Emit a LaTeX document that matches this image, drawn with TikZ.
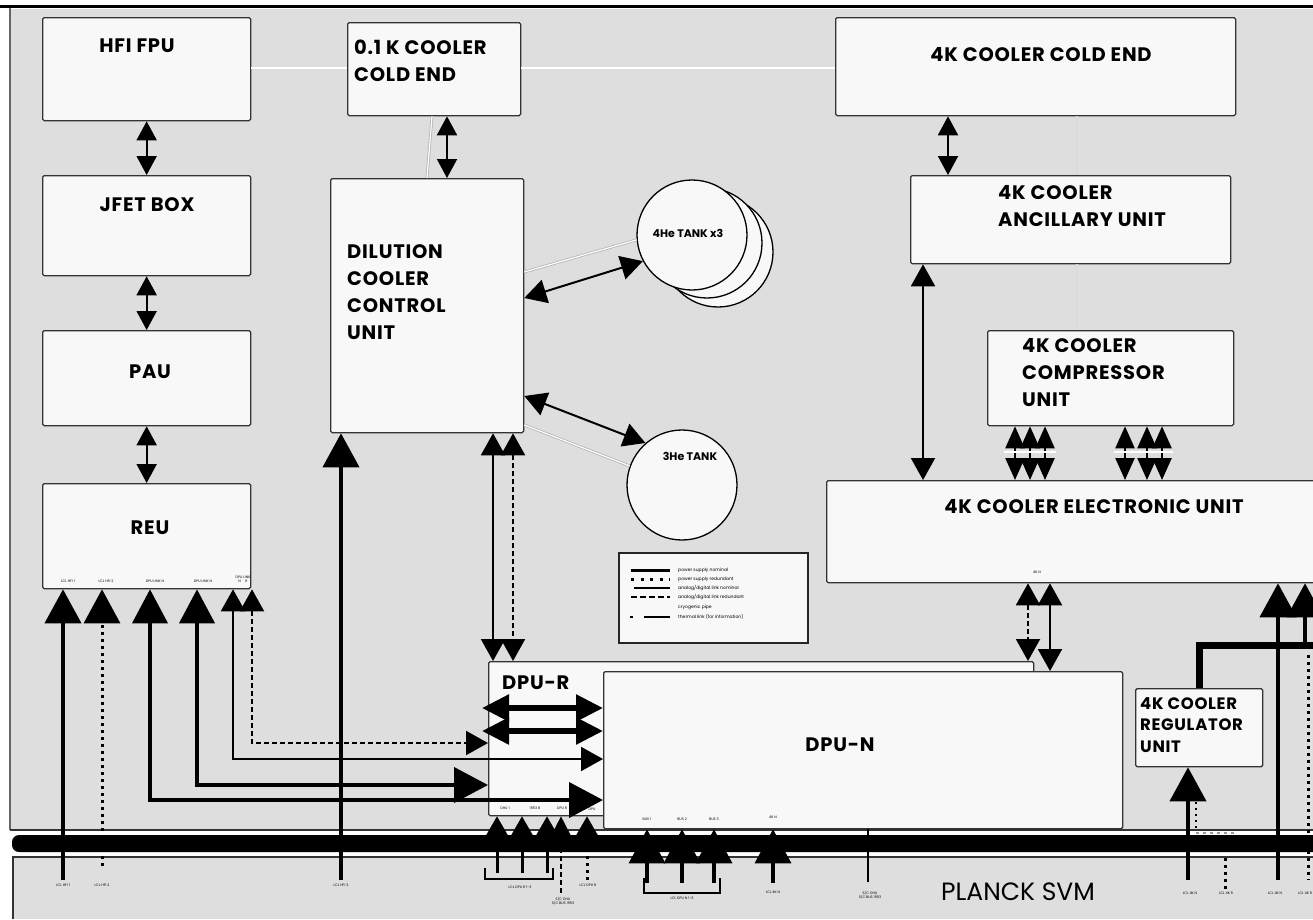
\documentclass[tikz,border=0pt]{standalone}
\usepackage{fontspec}
\setmainfont{Poppins}
\newfontfamily\lblf[LetterSpace=4]{Poppins}
\usetikzlibrary{arrows.meta,calc}
\definecolor{bggray}{HTML}{DEDEDE}
\definecolor{boxfill}{HTML}{F8F8F8}
\definecolor{pipegray}{HTML}{B4B4B4}
\tikzset{
  box/.style={draw=black!80, line width=1.3pt, fill=boxfill, rounded corners=1.5pt, anchor=north west, inner sep=0pt},
  lbl/.style={font=\fontsize{19.5}{27}\lblf\bfseries, inner sep=0pt, align=left},
  slbl/.style={font=\fontsize{16.5}{21.5}\lblf\bfseries, inner sep=0pt, align=left},
  tlbl/.style={font=\fontsize{11}{12}\selectfont\bfseries, inner sep=0pt},
  tinyt/.style={font=\fontsize{3.5}{4.2}\selectfont, inner sep=0pt, align=center},
  legt/.style={font=\fontsize{4.5}{5}\selectfont, inner sep=0pt, anchor=west},
  tank/.style={circle, draw=black, line width=1.3pt, fill=boxfill, minimum size=110pt, inner sep=0pt},
  pipe/.style={draw=pipegray, double=white, double distance=1.2pt, line width=0.8pt},
  lpipe/.style={draw=white!72!gray, line width=1.6pt},
  sdbl/.style={line width=2pt, {Triangle[width=20pt,length=19pt]}-{Triangle[width=20pt,length=19pt]}},
  mdbl/.style={line width=2pt, {Triangle[width=24pt,length=22pt]}-{Triangle[width=24pt,length=22pt]}},
  cdbl/.style={line width=2.5pt, {Triangle[width=19pt,length=22pt]}-{Triangle[width=19pt,length=22pt]}},
  hdbl/.style={line width=5.5pt, {Triangle[width=26pt,length=27pt]}-{Triangle[width=26pt,length=27pt]}},
  bigdbl/.style={line width=4pt, {Triangle[width=35pt,length=34pt]}-{Triangle[width=35pt,length=34pt]}},
  bigup/.style={line width=4pt, -{Triangle[width=36pt,length=34pt]}},
  midup/.style={line width=3pt, -{Triangle[width=28pt,length=25pt]}},
  smup/.style={line width=1.8pt, -{Triangle[width=20pt,length=20pt]}},
  dotl/.style={line width=3pt, dash pattern=on 3pt off 4pt},
  dashl/.style={dash pattern=on 5pt off 3pt},
}
\begin{document}
\begin{tikzpicture}[x=1pt,y=-1pt]
\useasboundingbox (0,0) rectangle (1313,919);
\fill[white] (0,0) rectangle (1313,919);
\fill[bggray] (10,9) rectangle (1313,830);
\draw[line width=3pt] (0,6) -- (1313,6);
\draw[black!60, line width=1.2pt] (10,8) -- (10,830);
% lower panel and bus
\fill[bggray] (13,857) rectangle (1313,919);
\draw[black!80, line width=1.2pt] (13,919) -- (13,857) -- (1313,857);
\draw[black!80, line width=1.2pt] (10,830) -- (1313,830);
\fill[black, rounded corners=7pt] (12,835) rectangle (1330,852);

% cryogenic pipes
\coordinate (yp0) at (0,68);
\coordinate (cx1077) at (1077,0);

% boxes
\node[box, minimum width=208pt, minimum height=103pt] (hfi) at (42,17) {};
\node[box, minimum width=173pt, minimum height=93pt] (cool01) at (347,22) {};
\node[box, minimum width=400pt, minimum height=98pt] (cold4k) at (835,17) {};
\node[box, minimum width=208pt, minimum height=100pt] (jfet) at (42,175) {};
\node[box, minimum width=208pt, minimum height=95pt] (pau) at (42,330) {};
\node[box, minimum width=208pt, minimum height=105pt] (reu) at (42,483) {};
\node[box, minimum width=193pt, minimum height=254pt] (dccu) at (330,178) {};
\node[box, minimum width=320pt, minimum height=88pt] (anc) at (910,175) {};
\node[box, minimum width=246pt, minimum height=95pt] (comp) at (987,330) {};
\node[box, minimum width=500pt, minimum height=102pt] (elec) at (826,480) {};
\node[box, minimum width=545pt, minimum height=154pt] (dpur) at (488,661) {};
\node[box, minimum width=519pt, minimum height=157pt] (dpun) at (603,671) {};
\node[box, minimum width=127pt, minimum height=78pt] (reg) at (1135,688) {};
\node[tank] (he4c) at (718,252) {};
\node[tank] (he4b) at (707,243) {};
\node[tank] (he4) at (692,235) {};
\node[tank] (he3) at (682,485) {};

% pipes between boxes
\draw[pipe] (hfi.east |- yp0) -- (cool01.west |- yp0);
\draw[pipe] (cool01.east |- yp0) -- (cold4k.west |- yp0);
\coordinate (pa) at (432,0); \coordinate (pb) at (427,0);
\draw[pipe] (cool01.south -| pa) -- (dccu.north -| pb);
\draw[lpipe] (cold4k.south -| cx1077) -- (anc.north -| cx1077);
\draw[lpipe] (anc.south -| cx1077) -- (comp.north -| cx1077);
\coordinate (yp1) at (0,272);
\coordinate (yp2) at (0,425);
\draw[pipe] (dccu.east |- yp1) -- (he4.185);
\draw[pipe] (dccu.east |- yp2) -- (he3.160);

% labels
\node[lbl] (thfi) at (137,46) {HFI FPU};
\node[lbl, anchor=north west] (tc01) at (354,40) {0.1 K COOLER\\COLD END};
\node[lbl] (tc4) at (1041,55) {4K COOLER COLD END};
\node[lbl] (tjfet) at (147,205) {JFET BOX};
\node[lbl] (tpau) at (150,372) {PAU};
\node[lbl] (treu) at (150,528) {REU};
\node[lbl, anchor=north west] (tdccu) at (347,244) {DILUTION\\COOLER\\CONTROL\\UNIT};
\node[lbl, anchor=north west] (tanc) at (998,185) {4K COOLER\\ANCILLARY UNIT};
\node[lbl, anchor=north west] (tcomp) at (1022,338) {4K COOLER\\COMPRESSOR\\UNIT};
\node[lbl] (telec) at (1094,507) {4K COOLER ELECTRONIC UNIT};
\node[lbl, anchor=west] (tdpur) at (502,683) {DPU-R};
\node[lbl] (tdpun) at (840,745) {DPU-N};
\node[slbl, anchor=north west] (treg) at (1140,697) {4K COOLER\\REGULATOR\\UNIT};
\node[tlbl] (the4) at (688,233) {4He TANK x3};
\node[tlbl] (the3) at (690,456) {3He TANK};
\node[font=\fontsize{25}{28}\selectfont, inner sep=0pt] (tsvm) at (1018,892) {PLANCK SVM};

% box-to-box links
\draw[sdbl] (hfi.south) -- (jfet.north);
\draw[sdbl] (jfet.south) -- (pau.north);
\draw[sdbl] (pau.south) -- (reu.north);
\coordinate (cx447) at (447,0);
\draw[sdbl] (cool01.south -| cx447) -- (dccu.north -| cx447);
\coordinate (cx948) at (948,0);
\draw[sdbl] (cold4k.south -| cx948) -- (anc.north -| cx948);
\coordinate (cx923) at (923,0);
\draw[mdbl] (anc.south -| cx923) -- (elec.north -| cx923);
\foreach \xx in {1015,1030,1045,1125,1147,1162}{
  \coordinate (cc) at (\xx,0);
  \draw[cdbl] (comp.south -| cc) -- (elec.north -| cc);
}
\coordinate (wl1) at (1004,452); \coordinate (wl2) at (1056,452);
\coordinate (wl3) at (1114,452); \coordinate (wl4) at (1173,452);
\draw[draw=black!70, double=white, double distance=1.5pt, line width=0.6pt] (wl1) -- (wl2);
\draw[draw=black!70, double=white, double distance=1.5pt, line width=0.6pt] (wl3) -- (wl4);
\coordinate (yt1) at (0,298);
\draw[mdbl] (dccu.east |- yt1) -- (he4.208);
\coordinate (yt2) at (0,396);
\draw[mdbl] (dccu.east |- yt2) -- (he3.131);
\coordinate (cx493) at (493,0);
\draw[mdbl] (dccu.south -| cx493) -- (dpur.north -| cx493);
\coordinate (cx513) at (513,0);
\draw[mdbl, dashl] (dccu.south -| cx513) -- (dpur.north -| cx513);
\coordinate (p341) at (341,880);
\draw[bigup] (p341) -- (dccu.south -| p341);

% REU links
\coordinate (p63) at (63,880);
\draw[bigup] (p63) -- (reu.south -| p63);
\coordinate (p102) at (102,866);
\draw[bigup, dotl] (p102) -- (reu.south -| p102);
\coordinate (k150) at (150,800);
\draw[bigdbl] (reu.south -| k150) -- (k150) -- (dpun.west |- k150);
\coordinate (k197) at (197,785);
\draw[bigdbl] (reu.south -| k197) -- (k197) -- (dpur.west |- k197);
\coordinate (k233) at (233,759);
\draw[mdbl] (reu.south -| k233) -- (k233) -- (dpun.west |- k233);
\coordinate (k252) at (252,743);
\draw[mdbl, dashl] (reu.south -| k252) -- (k252) -- (dpur.west |- k252);

% DPU-R <-> DPU-N
\coordinate (d1) at (0,708);
\coordinate (d2) at (0,731);
\draw[hdbl] ([xshift=-6pt]dpur.west |- d1) -- (dpun.west |- d1);
\draw[hdbl] ([xshift=-6pt]dpur.west |- d2) -- (dpun.west |- d2);

% electronic unit <-> DPU
\coordinate (cx1028) at (1028,0);
\draw[mdbl, dashl] (elec.south -| cx1028) -- (dpur.north -| cx1028);
\coordinate (cx1050) at (1050,0);
\draw[mdbl] (elec.south -| cx1050) -- (dpun.north -| cx1050);

% regulator
\coordinate (r645) at (1320,645);
\draw[line width=7pt] (reg.north) -- (reg.north |- r645) -- (r645);
\coordinate (p1278) at (1278,880);
\draw[bigup] (p1278) -- (elec.south -| p1278);
\coordinate (p1305) at (1305,645);
\draw[bigup] (p1305) -- (elec.south -| p1305);
\coordinate (q1308a) at (1308,655); \coordinate (q1308b) at (1308,880);
\draw[dotl] (q1308a) -- (q1308b);
\coordinate (p1188) at (1188,880);
\draw[bigup] (p1188) -- (reg.south -| p1188);
\coordinate (t1a) at (1196,790); \coordinate (t1b) at (1196,830);
\draw[line width=1.6pt, dash pattern=on 2pt off 4pt] (t1a) -- (t1b);
\coordinate (t2a) at (1196,833); \coordinate (t2b) at (1235,833);
\draw[line width=1.4pt, dash pattern=on 3pt off 4pt, white!60!black] (t2a) -- (t2b);
\coordinate (q1225a) at (1225,858); \coordinate (q1225b) at (1225,890);
\draw[dotl] (q1225a) -- (q1225b);

% DPU-R bottom
\foreach \xx in {497,522,547}{
  \coordinate (q) at (\xx,873);
  \draw[midup] (q) -- (dpur.south -| q);
}
\coordinate (q561) at (561,893);
\draw[smup, dashl] (q561) -- (dpur.south -| q561);
\coordinate (q587) at (587,880);
\draw[midup, dotl] (q587) -- (dpur.south -| q587);
\coordinate (bk1) at (485,868); \coordinate (bk2) at (553,868);
\draw[line width=1.3pt] (bk1) -- ++(0,11) -| (bk2);

% DPU-N bottom
\foreach \xx in {647,682,714,773}{
  \coordinate (q) at (\xx,883);
  \draw[bigup, line width=3.5pt] (q) -- (dpun.south -| q);
}
\coordinate (bk3) at (644,878); \coordinate (bk4) at (720,878);
\draw[line width=1.3pt] (bk3) -- ++(0,15) -| (bk4);
\coordinate (q868) at (868,882);
\draw[line width=1.8pt] (q868) -- (dpun.south -| q868);

% legend
\node[draw=black!85, line width=2pt, fill=boxfill, minimum width=189pt, minimum height=90pt, anchor=north west, inner sep=0pt] (leg) at (618,552) {};
\coordinate (l1) at (631,570); \coordinate (l1e) at (670,570);
\draw[line width=3pt] (l1) -- (l1e);
\coordinate (l2) at (631,579); \coordinate (l2e) at (670,579);
\draw[line width=3pt, dash pattern=on 3pt off 6.5pt] (l2) -- (l2e);
\coordinate (l3) at (634,588); \coordinate (l3e) at (670,588);
\draw[line width=1.3pt] (l3) -- (l3e);
\coordinate (l4) at (631,597); \coordinate (l4e) at (670,597);
\draw[line width=1.3pt, dash pattern=on 6pt off 3pt] (l4) -- (l4e);
\coordinate (l6) at (630,617); \coordinate (l6e) at (670,617);
\draw[line width=1.3pt, dash pattern=on 3pt off 11pt on 30pt] (l6) -- (l6e);
\node[legt] (lt1) at (678,570) {power supply nominal};
\node[legt] (lt2) at (678,579) {power supply redundant};
\node[legt] (lt3) at (678,588) {analog/digital link nominal};
\node[legt] (lt4) at (678,597) {analog/digital link redundant};
\node[legt] (lt5) at (678,607) {cryogenic pipe};
\node[legt] (lt6) at (678,617) {thermal link (for information)};

% tiny labels
\node[tinyt] (r1) at (68,581) {LCL HFI 1};
\node[tinyt] (r2) at (106,581) {LCL HFI 2};
\node[tinyt] (r3) at (155,581) {DPU LINK N};
\node[tinyt] (r4) at (203,581) {DPU LINK N};
\node[tinyt] (r5) at (243,579) {DPU LINK\\N \quad R};
\node[tinyt] (b1) at (63,885) {LCL HFI 1};
\node[tinyt] (b2) at (102,885) {LCL HFI 2};
\node[tinyt] (b3) at (341,885) {LCL HFI 3};
\node[tinyt] (b4) at (520,887) {LCL DPU R 1-3};
\node[tinyt] (b5) at (563,901) {S/C DHU\\S/C BUS 1553};
\node[tinyt] (b6) at (588,885) {LCL DPU R};
\node[tinyt] (b7) at (682,898) {LCL DPU N 1-3};
\node[tinyt] (b8) at (773,892) {LCL 4K N};
\node[tinyt] (b9) at (870,895) {S/C DHU\\S/C BUS 1553};
\node[tinyt] (b10) at (1190,893) {LCL 4K N};
\node[tinyt] (b11) at (1226,893) {LCL 4K R};
\node[tinyt] (b12) at (1275,893) {LCL 4K N};
\node[tinyt] (b13) at (1305,893) {LCL 4K R};
\node[tinyt] (d1t) at (505,808) {DHU 1};
\node[tinyt] (d2t) at (535,808) {1553 B};
\node[tinyt] (d3t) at (562,808) {DPU R};
\node[tinyt] (d4t) at (592,809) {DPU};
\node[tinyt] (n1t) at (647,819) {BUS 1};
\node[tinyt] (n2t) at (682,819) {BUS 2};
\node[tinyt] (n3t) at (714,819) {BUS 3};
\node[tinyt] (n4t) at (773,817) {4K N};
\node[tinyt] (e1t) at (1037,572) {4K N};
\end{tikzpicture}
\end{document}
